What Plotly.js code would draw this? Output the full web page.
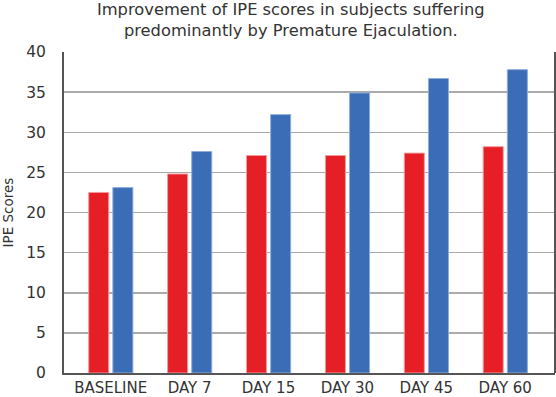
<!DOCTYPE html>
<html>
<head>
<meta charset="utf-8">
<script src="https://cdn.plot.ly/plotly-3.0.1.min.js"></script>
<style>html,body{margin:0;padding:0;background:#fff;}#chart{width:556px;height:397px;}</style>
</head>
<body>
<div id="chart"></div>
<script>
const categories = ["BASELINE", "DAY 7", "DAY 15", "DAY 30", "DAY 45", "DAY 60"];
const redValues = [22.5, 24.8, 27.1, 27.1, 27.4, 28.2];
const blueValues = [23.1, 27.6, 32.2, 34.9, 36.7, 37.8];
const yTicks = [0, 5, 10, 15, 20, 25, 30, 35, 40];

const xIdx = categories.map((c, i) => i);
const FONT = "DejaVu Sans, sans-serif";

const traces = [
  {type: "bar", x: xIdx, y: redValues, name: "Red", width: 0.254, offset: -0.279,
   marker: {color: "#E61E25", line: {color: "#F19A9D", width: 1}}},
  {type: "bar", x: xIdx, y: blueValues, name: "Blue", width: 0.254, offset: 0.027,
   marker: {color: "#3B6DB7", line: {color: "#8FAEDC", width: 1}}}
];

const layout = {
  width: 556, height: 397,
  margin: {l: 64, r: 1, t: 51.5, b: 23.5},
  paper_bgcolor: "#fff", plot_bgcolor: "#fff",
  showlegend: false,
  font: {family: FONT, color: "#333"},
  title: {text: "Improvement of IPE scores in subjects suffering<br>predominantly by Premature Ejaculation.",
          font: {family: FONT, size: 16.3, color: "#333"},
          x: 0.523, xanchor: "center", y: 0.963, yanchor: "middle", yref: "container"},
  xaxis: {range: [-0.592, 5.631], tickvals: xIdx, ticktext: categories,
          showgrid: false, zeroline: false, showline: true, linecolor: "#555", linewidth: 2,
          mirror: false, ticks: "", tickfont: {family: FONT, size: 15, color: "#333"}},
  yaxis: {range: [0, 40], tickvals: yTicks, showgrid: true, gridcolor: "#AAAAAA", gridwidth: 1.5,
          zeroline: false, showline: true, linecolor: "#555", linewidth: 2, ticks: "",
          ticklabelstandoff: 13,
          tickfont: {family: FONT, size: 15.5, color: "#333"},
          title: {text: "IPE Scores", font: {family: FONT, size: 13.5, color: "#333"}, standoff: 12}},
  shapes: [
    {type: "line", xref: "paper", yref: "paper", x0: 1, x1: 1, y0: 0, y1: 1, line: {color: "#555", width: 2}}
  ]
};

Plotly.newPlot("chart", traces, layout, {displayModeBar: false, staticPlot: true});
</script>
</body>
</html>
